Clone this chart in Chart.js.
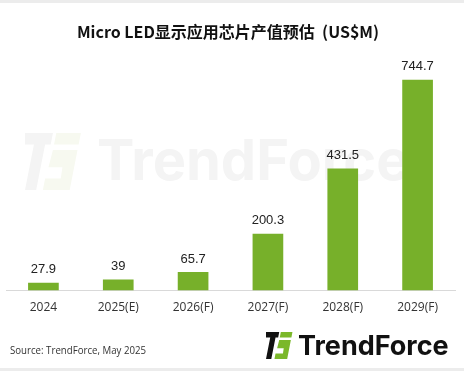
<!DOCTYPE html>
<html>
<head>
<meta charset="utf-8">
<script src="https://cdn.jsdelivr.net/npm/chart.js@4"></script>
<style>
  html, body { margin: 0; padding: 0; background: #fff; }
  #wrap { width: 464px; height: 371px; position: relative; }
</style>
</head>
<body>
<div id="wrap"><canvas id="chip-chart"></canvas></div>
<script>
// Micro LED chip value forecast

const years = ['2024', '2025(E)', '2026(F)', '2027(F)', '2028(F)', '2029(F)'];
const chipValue = [27.9, 39, 65.7, 200.3, 431.5, 744.7];
const titleText = 'Micro LED显示应用芯片产值预估  (US$M)';
const sourceText = 'Source: TrendForce, May 2025';

const barGreen = '#77b02a';

function drawIcon(ctx, x, y, s, dark, green) {
    // stylised TF mark, s = height
    const w = s * 0.98;
    ctx.save();
    ctx.fillStyle = dark;
    ctx.beginPath();
    ctx.moveTo(x, y);
    ctx.lineTo(x + w * 0.5, y);
    ctx.lineTo(x + w * 0.46, y + s * 0.2);
    ctx.lineTo(x + w * 0.36, y + s * 0.2);
    ctx.lineTo(x + w * 0.2, y + s);
    ctx.lineTo(x + w * 0.0, y + s);
    ctx.lineTo(x + w * 0.16, y + s * 0.2);
    ctx.lineTo(x, y + s * 0.2);
    ctx.closePath();
    ctx.fill();
    ctx.fillStyle = green;
    ctx.beginPath();
    ctx.moveTo(x + w * 0.56, y);
    ctx.lineTo(x + w, y);
    ctx.lineTo(x + w * 0.96, y + s * 0.2);
    ctx.lineTo(x + w * 0.52, y + s * 0.2);
    ctx.closePath();
    ctx.fill();
    ctx.beginPath();
    ctx.moveTo(x + w * 0.5, y + s * 0.3);
    ctx.lineTo(x + w * 0.94, y + s * 0.3);
    ctx.lineTo(x + w * 0.8, y + s);
    ctx.lineTo(x + w * 0.32, y + s);
    ctx.lineTo(x + w * 0.36, y + s * 0.8);
    ctx.lineTo(x + w * 0.64, y + s * 0.8);
    ctx.lineTo(x + w * 0.67, y + s * 0.6);
    ctx.lineTo(x + w * 0.42, y + s * 0.6);
    ctx.closePath();
    ctx.fill();
    ctx.restore();
}

const decorPlugin = {
    id: 'decor',
    beforeDatasetsDraw(chart) {
        const ctx = chart.ctx;
        // faint watermark behind the bars
        drawIcon(ctx, 25, 133, 57, '#f4f4f4', '#f7f9f0');
        ctx.save();
        ctx.fillStyle = '#f4f4f4';
        ctx.font = 'bold 56px Inter, sans-serif';
        ctx.textBaseline = 'alphabetic';
        ctx.fillText('TrendForce', 97, 180, 336);
        ctx.restore();
    },
    afterDatasetsDraw(chart) {
        const ctx = chart.ctx;
        const meta = chart.getDatasetMeta(0);
        ctx.save();
        ctx.fillStyle = '#222';
        ctx.font = '13px "Liberation Sans", Arial, sans-serif';
        ctx.textAlign = 'center';
        ctx.textBaseline = 'middle';
        meta.data.forEach((bar, i) => {
            ctx.fillText(String(chipValue[i]), bar.x, bar.y - 13);
        });
        ctx.restore();
    },
    afterDraw(chart) {
        const ctx = chart.ctx;
        ctx.save();
        // frame bands
        ctx.fillStyle = '#ececec';
        ctx.fillRect(0, 0, 464, 3);
        ctx.fillRect(0, 368, 464, 3);
        // title
        ctx.fillStyle = '#111';
        ctx.font = 'bold 16px "Noto Sans CJK SC", sans-serif';
        ctx.textAlign = 'center';
        ctx.textBaseline = 'middle';
        ctx.fillText(titleText, 228, 32);
        // source
        ctx.fillStyle = '#333';
        ctx.font = '10px "Open Sans", sans-serif';
        ctx.textAlign = 'left';
        ctx.fillText(sourceText, 10, 351, 136);
        // logo
        drawIcon(ctx, 266, 332, 27, '#111', '#7bb82a');
        ctx.fillStyle = '#111';
        ctx.font = 'bold 27px Inter, sans-serif';
        ctx.textBaseline = 'alphabetic';
        ctx.fillText('TrendForce', 298, 355, 153);
        ctx.restore();
    }
};

const ctx = document.getElementById('chip-chart').getContext('2d');

new Chart(ctx, {
    type: 'bar',
    data: {
        labels: years,
        datasets: [{
            data: chipValue,
            backgroundColor: barGreen,
            barPercentage: 0.41,
            categoryPercentage: 1.0
        }]
    },
    options: {
        responsive: true,
        maintainAspectRatio: false,
        animation: false,
        layout: {
            padding: { top: 64, left: 6, right: 9, bottom: 46 }
        },
        plugins: {
            legend: { display: false },
            tooltip: { enabled: false }
        },
        scales: {
            x: {
                grid: { display: false, drawTicks: false },
                border: { display: true, color: '#d9d9d9', width: 1 },
                ticks: {
                    color: '#333',
                    padding: 10,
                    font: { family: '"Open Sans", sans-serif', size: 12 }
                }
            },
            y: {
                display: false,
                min: 0,
                max: 800
            }
        }
    },
    plugins: [decorPlugin]
});
</script>
</body>
</html>
